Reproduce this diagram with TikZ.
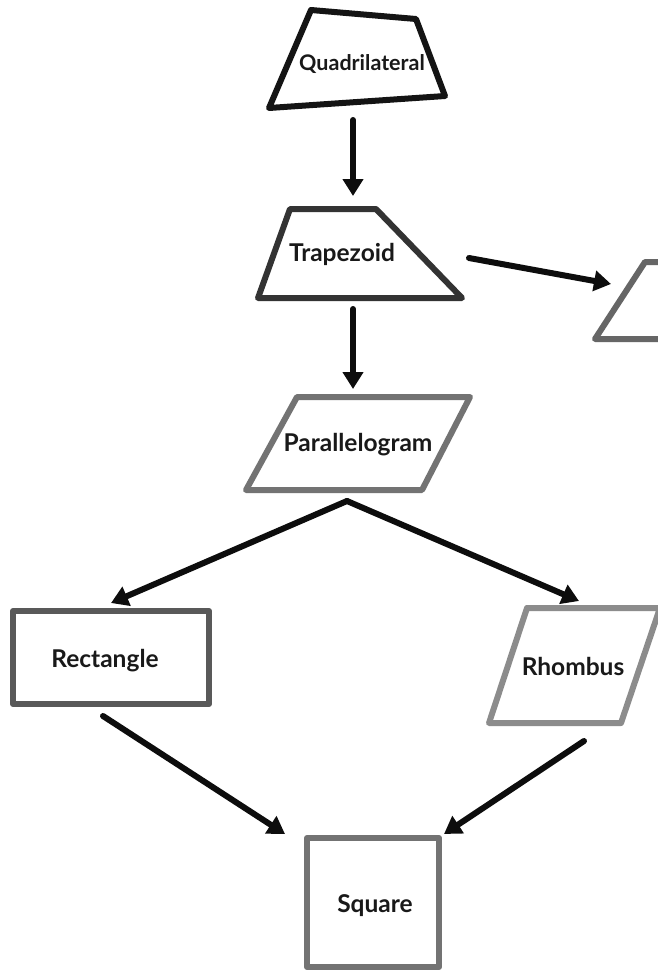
\documentclass[tikz,border=0pt]{standalone}
\usepackage{fontspec}
\setmainfont{Lato}
\usetikzlibrary{arrows.meta}
\begin{document}
\begin{tikzpicture}[x=1pt,y=-1pt,
  shapeline/.style={line width=6pt,line join=round,fill=white},
  lbl/.style={font=\bfseries\fontsize{24.5}{28}\selectfont,text=black!90},
  link/.style={line width=6pt,line cap=round,black!95,
    -{Triangle[length=17pt,width=20pt]}}]
\useasboundingbox (0,0) rectangle (658,971);
\fill[white] (0,0) rectangle (658,971);

% shapes
\draw[shapeline,draw=black!92] (311,10) -- (416,19) -- (445,96) -- (269,108) -- cycle;
\draw[shapeline,draw=black!80] (290,209) -- (376,209) -- (462,298) -- (258,298) -- cycle;
\draw[shapeline,draw=black!60] (700,262) -- (645,262) -- (595,339) -- (700,339);
\draw[shapeline,draw=black!55] (297,397) -- (470,397) -- (422,490) -- (246,490) -- cycle;
\draw[shapeline,draw=black!65] (13,611) rectangle (209,704);
\draw[shapeline,draw=black!45] (527,608) -- (660,608) -- (621,723) -- (489,723) -- cycle;
\draw[shapeline,draw=black!55] (307,838) rectangle (439,967);

% labels
\node[lbl,font=\bfseries\fontsize{21.5}{25}\selectfont] (quad) at (362,64) {Quadrilateral};
\node[lbl] (trap) at (342,254) {Trapezoid};
\node[lbl] (para) at (358,445) {Parallelogram};
\node[lbl] (rect) at (105,661) {Rectangle};
\node[lbl] (rhom) at (573,666) {Rhombus};
\node[lbl] (sq) at (375,906) {Square};

% connector end points
\coordinate (quadS) at (353,120);
\coordinate (trapN) at (353,196);
\coordinate (trapS) at (353,309);
\coordinate (trapE) at (469,258);
\coordinate (rightW) at (611,284);
\coordinate (paraN) at (353,389);
\coordinate (paraS) at (347,501);
\coordinate (rectN) at (111,603);
\coordinate (rhomN) at (579,601);
\coordinate (rectS) at (103,716);
\coordinate (rhomS) at (584,741);
\coordinate (sqNW) at (285,834);
\coordinate (sqNE) at (444,834);

% connectors
\draw[link] (quadS) -- (trapN);
\draw[link] (trapS) -- (paraN);
\draw[link] (trapE) -- (rightW);
\draw[link] (paraS) -- (rectN);
\draw[link] (paraS) -- (rhomN);
\draw[link] (rectS) -- (sqNW);
\draw[link] (rhomS) -- (sqNE);
\end{tikzpicture}
\end{document}
